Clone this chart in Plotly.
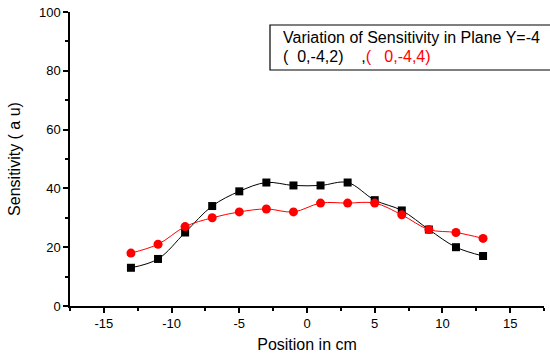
import plotly.graph_objects as go

x = [-13, -11, -9, -7, -5, -3, -1, 1, 3, 5, 7, 9, 11, 13]
black_y = [13, 16, 25, 34, 39, 42, 41, 41, 42, 36, 32.5, 26, 20, 17]
red_y = [18, 21, 27, 30, 32, 33, 32, 35, 35, 35, 31, 26, 25, 23]
x_ticks = [-15, -10, -5, 0, 5, 10, 15]
x_tick_labels = ["-15", "-10", "-5", "0", "5", "10", "15"]
y_ticks = [0, 20, 40, 60, 80, 100]

FONT = "Liberation Sans"

fig = go.Figure()
fig.add_trace(go.Scatter(x=x, y=black_y, mode="lines+markers",
                         line=dict(color="black", width=1, shape="spline"),
                         marker=dict(symbol="square", size=8, color="black")))
fig.add_trace(go.Scatter(x=x, y=red_y, mode="lines+markers",
                         line=dict(color="red", width=1, shape="spline"),
                         marker=dict(symbol="circle", size=9, color="red")))

axis_common = dict(showline=True, linecolor="black", linewidth=1.5, ticks="outside",
                   ticklen=5, tickwidth=1.5, tickcolor="black", showgrid=False,
                   zeroline=False, automargin=False,
                   tickfont=dict(family=FONT, size=13, color="black"))
fig.update_xaxes(range=[-17.5, 17.5], tickvals=x_ticks, ticktext=x_tick_labels,
                 minor=dict(ticks="outside", ticklen=3, tickcolor="black", dtick=2.5, tick0=-17.5),
                 title=dict(text="Position in cm", font=dict(family=FONT, size=16, color="black"), standoff=8),
                 **axis_common)
fig.update_yaxes(range=[0, 100], tickvals=y_ticks,
                 minor=dict(ticks="outside", ticklen=3, tickcolor="black", dtick=10),
                 title=dict(text="Sensitivity ( a u)", font=dict(family=FONT, size=16, color="black"), standoff=14),
                 **axis_common)

fig.add_shape(type="rect", xref="paper", yref="paper", x0=(270-70)/474, x1=1.02,
              y0=(306-70)/294, y1=(306-25)/294, line=dict(color="black", width=1.2))
fig.add_annotation(xref="paper", yref="paper", x=(281-70)/474, y=(306-37)/294,
                   xanchor="left", yanchor="middle", showarrow=False,
                   text="Variation of Sensitivity in Plane Y=-4",
                   font=dict(family=FONT, size=16, color="black"))
fig.add_annotation(xref="paper", yref="paper", x=(281-70)/474, y=(306-57)/294,
                   xanchor="left", yanchor="middle", showarrow=False,
                   text="(&nbsp;&nbsp;0,-4,2)&nbsp;&nbsp;&nbsp;&nbsp;,<span style='color:red'>(&nbsp;&nbsp;&nbsp;0,-4,4)</span>",
                   font=dict(family=FONT, size=16, color="black"))

fig.update_layout(width=550, height=354, showlegend=False,
                  plot_bgcolor="white", paper_bgcolor="white",
                  margin=dict(l=70, r=6, t=12, b=48))
fig.write_html("out.html")
